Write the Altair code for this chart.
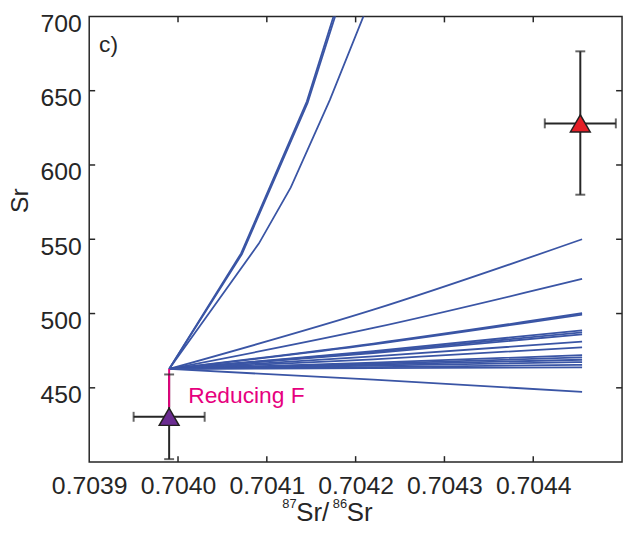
import pandas as pd
import altair as alt

# common starting end-member of the mixing lines
start_x = 0.70399
start_sr = 462.7

# shallow family of mixing lines (start, middle, end)
flat_x = [0.70399, 0.70422, 0.704455]
flat_mid = [502.6, 490.3, 479.8, 479.3, 474.7, 474.0, 473.4, 471.1,
            469.2, 467.0, 466.3, 465.6, 464.9, 464.0, 463.3, 455.5]
flat_end = [550.0, 523.3, 500.2, 499.3, 488.7, 487.3, 486.0, 481.1,
            477.3, 472.0, 470.5, 468.9, 467.3, 465.5, 463.8, 447.3]

# steep curves that run off the top of the panel
steep_x = [
    [0.70399, 0.704071, 0.704145, 0.704187],
    [0.70399, 0.704072, 0.704146, 0.704189],
    [0.70399, 0.704091, 0.704127, 0.704171, 0.704224],
]
steep_sr = [
    [462.7, 540.5, 642.7, 722.7],
    [462.7, 540.0, 642.0, 722.7],
    [462.7, 547.1, 584.9, 643.8, 722.7],
]

# measured samples with error bars
sample_x = [0.70399, 0.704453]
sample_x_err = [0.00004, 0.00004]
sample_sr = [430.5, 628.0]
sample_sr_lo = [402.0, 580.0]
sample_sr_hi = [459.0, 676.5]
sample_fill = ['#6B2C91', '#E41E26']

# pink "reducing F" arrow
pink_sr = [462.7, 437.0]

x_labels = [0.7039, 0.7040, 0.7041, 0.7042, 0.7043, 0.7044]
y_labels = [450, 500, 550, 600, 650, 700]
x_inner_ticks = [0.7040, 0.7041, 0.7042, 0.7043, 0.7044]
y_inner_ticks = [450, 500, 550, 600, 650]

W, H = 538, 450
FONT = 'Liberation Sans'
INK = '#262626'
BLUE = '#3A55A5'
PINK = '#E6007E'

flat_rows = []
for i, (m, e) in enumerate(zip(flat_mid, flat_end)):
    for k, (xv, yv) in enumerate(zip(flat_x, [start_sr, m, e])):
        flat_rows.append({'line': f'f{i}', 'k': k, 'x': xv, 'y': yv})
flat_df = pd.DataFrame(flat_rows)

steep_rows = []
for i, (xs_, ys_) in enumerate(zip(steep_x, steep_sr)):
    for k, (xv, yv) in enumerate(zip(xs_, ys_)):
        steep_rows.append({'line': f's{i}', 'k': k, 'x': xv, 'y': yv})
steep_df = pd.DataFrame(steep_rows)

samples = pd.DataFrame({
    'x': sample_x,
    'x_lo': [a - b for a, b in zip(sample_x, sample_x_err)],
    'x_hi': [a + b for a, b in zip(sample_x, sample_x_err)],
    'y': sample_sr,
    'y_lo': sample_sr_lo,
    'y_hi': sample_sr_hi,
    'fill': sample_fill,
})
hcaps = pd.DataFrame({'x': list(samples.x_lo) + list(samples.x_hi),
                      'y': list(samples.y) * 2})
vcaps = pd.DataFrame({'x': list(samples.x) * 2,
                      'y': list(samples.y_lo) + list(samples.y_hi)})
pink = pd.DataFrame({'x': [start_x], 'y': [pink_sr[0]], 'y2': [pink_sr[1]]})

xs = alt.Scale(domain=[0.7039, 0.7045], nice=False, zero=False)
ys = alt.Scale(domain=[400, 700], nice=False, zero=False)
x_axis = alt.Axis(values=x_labels, format='.4f', ticks=False, domain=False, grid=False,
                  labelFont=FONT, labelFontSize=25, labelColor=INK, labelPadding=12,
                  labelFlush=False, labelOverlap=False)
y_axis = alt.Axis(values=y_labels, format='d', ticks=False, domain=False, grid=False,
                  labelFont=FONT, labelFontSize=25, labelColor=INK, labelPadding=8,
                  labelFlush=False, labelOverlap=False, labelOffset=7)


def X(f):
    return alt.X(f, scale=xs, axis=x_axis, title=None)


def Y(f):
    return alt.Y(f, scale=ys, axis=y_axis, title=None)


flat_lines = alt.Chart(flat_df).mark_line(color=BLUE, strokeWidth=1.8, interpolate='monotone').encode(
    x=X('x:Q'), y=Y('y:Q'), detail='line:N', order='k:Q')
steep_lines = alt.Chart(steep_df).mark_line(color=BLUE, strokeWidth=1.8, clip=True).encode(
    x=X('x:Q'), y=Y('y:Q'), detail='line:N', order='k:Q')

hbar = alt.Chart(samples).mark_rule(color=INK, strokeWidth=2).encode(
    x=X('x_lo:Q'), x2='x_hi:Q', y=Y('y:Q'))
vbar = alt.Chart(samples).mark_rule(color=INK, strokeWidth=2).encode(
    x=X('x:Q'), y=Y('y_lo:Q'), y2='y_hi:Q')
pink_line = alt.Chart(pink).mark_rule(color=PINK, strokeWidth=2).encode(
    x=X('x:Q'), y=Y('y:Q'), y2='y2:Q')
hcap = alt.Chart(hcaps).mark_tick(orient='vertical', color=INK, size=10, thickness=2).encode(
    x=X('x:Q'), y=Y('y:Q'))
vcap = alt.Chart(vcaps).mark_tick(orient='horizontal', color=INK, size=10, thickness=2).encode(
    x=X('x:Q'), y=Y('y:Q'))
tri = alt.Chart(samples).mark_point(shape='triangle-up', filled=True, size=400, opacity=1,
                                    stroke='#231F20', strokeWidth=1.5).encode(
    x=X('x:Q'), y=Y('y:Q'), fill=alt.Fill('fill:N', scale=None))

xt = pd.DataFrame({'x': x_inner_ticks})
yt = pd.DataFrame({'y': y_inner_ticks})
tick_style = dict(color=INK, strokeWidth=1.5)
ticks = (
    alt.Chart(xt).mark_rule(**tick_style).encode(x=X('x:Q'), y=alt.value(H), y2=alt.value(H - 6))
    + alt.Chart(xt).mark_rule(**tick_style).encode(x=X('x:Q'), y=alt.value(0), y2=alt.value(6))
    + alt.Chart(yt).mark_rule(**tick_style).encode(y=Y('y:Q'), x=alt.value(0), x2=alt.value(6))
    + alt.Chart(yt).mark_rule(**tick_style).encode(y=Y('y:Q'), x=alt.value(W), x2=alt.value(W - 6))
)

one = pd.DataFrame({'a': [0]})


def label(text, x, y, size, color=INK, angle=0, align='left', baseline='alphabetic'):
    return alt.Chart(one).mark_text(text=text, font=FONT, fontSize=size, color=color,
                                    angle=angle, align=align, baseline=baseline).encode(
        x=alt.value(x), y=alt.value(y))


texts = (
    label('c)', 10, 36, 23)
    + label('Reducing F', 100, 390, 23, color=PINK)
    + label('Sr', -70, 186, 25, angle=270, align='center', baseline='middle')
    + label('87', 195, 496, 13)
    + label('Sr/', 209, 509, 26)
    + label('86', 246, 496, 13)
    + label('Sr', 260, 509, 26)
)

chart = alt.layer(flat_lines, steep_lines, hbar, vbar, pink_line, vcap, hcap, tri,
                  ticks, texts).properties(
    width=W, height=H, autosize='none',
    padding={'left': 82, 'top': 6, 'right': 5, 'bottom': 61},
).configure_view(stroke=INK, strokeWidth=1.5)

chart.save('out.html', embed_options={'renderer': 'svg', 'actions': False})
